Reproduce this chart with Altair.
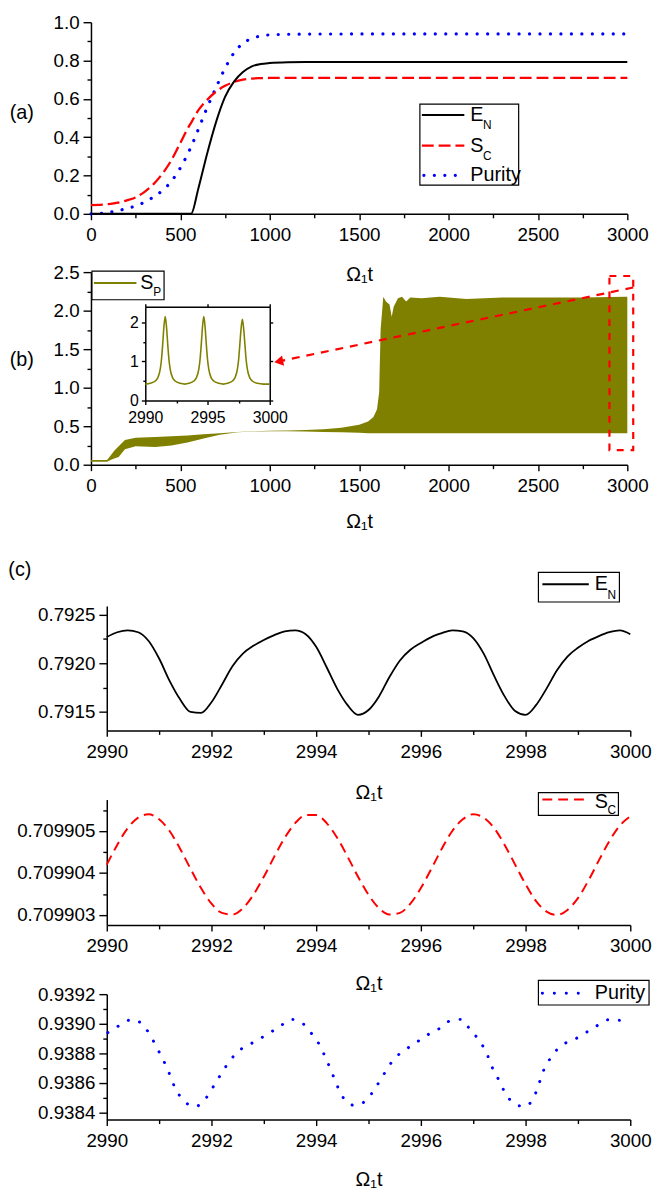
import altair as alt
import pandas as pd

FONT = "Liberation Sans"
W, H = 653, 1192
OMEGA_T = "Ω₁t"

# ---------------- data: panel (a) ----------------
T_A = [0, 50, 100, 150, 200, 250, 300, 350, 400, 450, 500, 550, 560, 600, 650, 700,
       750, 800, 850, 900, 950, 1000, 1100, 1200, 1500, 2000, 2500, 3000]
EN_A = [0, 0, 0, 0, 0, 0, 0, 0, 0, 0, 0, 0, 0, 0.13, 0.315, 0.48,
        0.61, 0.69, 0.74, 0.77, 0.782, 0.787, 0.791, 0.792, 0.792, 0.792, 0.792, 0.792]
SC_A = [0.046, 0.047, 0.051, 0.058, 0.070, 0.086, 0.115, 0.155, 0.21, 0.28, 0.37, 0.46, 0.475, 0.54, 0.595, 0.638,
        0.668, 0.688, 0.70, 0.706, 0.708, 0.709, 0.710, 0.710, 0.710, 0.710, 0.710, 0.710]
PU_A = [0.0, 0.002, 0.008, 0.016, 0.028, 0.041, 0.061, 0.088, 0.122, 0.17, 0.24, 0.33, 0.35, 0.44, 0.555, 0.66,
        0.76, 0.84, 0.89, 0.915, 0.928, 0.934, 0.937, 0.938, 0.9388, 0.9388, 0.9388, 0.9388]

# ---------------- data: panel (b) ----------------
T_B = [0, 90, 110, 130, 155, 190, 250, 360, 450, 540,
       630, 720, 820, 910, 1000, 1100, 1200, 1300, 1400, 1500,
       1550, 1580, 1600, 1612, 1620, 1635, 1650, 1670, 1682, 1693,
       1717, 1740, 1763, 1786, 1850, 1950, 2100, 2300, 2520, 2750,
       2990, 3000]
UP_B = [0.06, 0.06, 0.12, 0.18, 0.24, 0.32, 0.35, 0.36, 0.37, 0.38,
        0.395, 0.41, 0.425, 0.435, 0.44, 0.445, 0.45, 0.46, 0.48, 0.52,
        0.56, 0.62, 0.72, 0.94, 1.75, 2.18, 2.12, 2.08, 1.92, 2.05,
        2.16, 2.18, 2.12, 2.17, 2.16, 2.18, 2.15, 2.17, 2.17, 2.17,
        2.18, 2.18]
LO_B = [0.04, 0.04, 0.06, 0.08, 0.10, 0.20, 0.24, 0.23, 0.25, 0.29,
        0.34, 0.39, 0.42, 0.43, 0.435, 0.435, 0.43, 0.425, 0.42, 0.415,
        0.41, 0.41, 0.41, 0.41, 0.41, 0.41, 0.41, 0.41, 0.41, 0.41,
        0.41, 0.41, 0.41, 0.41, 0.41, 0.41, 0.41, 0.41, 0.41, 0.41,
        0.41, 0.41]

# inset of (b)
T_IN = [2990.0, 2990.4, 2990.8, 2991.0, 2991.2, 2991.3, 2991.4, 2991.5, 2991.6, 2991.7,
        2991.8, 2991.9, 2992.0, 2992.2, 2992.4, 2992.8, 2993.2, 2993.5, 2993.9, 2994.1,
        2994.3, 2994.4, 2994.5, 2994.6, 2994.7, 2994.8, 2994.9, 2995.0, 2995.1, 2995.3,
        2995.5, 2995.9, 2996.3, 2996.6, 2997.0, 2997.2, 2997.4, 2997.5, 2997.6, 2997.7,
        2997.8, 2997.9, 2998.0, 2998.1, 2998.2, 2998.4, 2998.6, 2999.0, 2999.5, 3000.0]
SP_IN = [0.42, 0.44, 0.50, 0.58, 0.80, 1.05, 1.45, 1.90, 2.15, 1.90,
         1.45, 1.05, 0.80, 0.58, 0.50, 0.44, 0.42, 0.44, 0.50, 0.58,
         0.80, 1.05, 1.45, 1.90, 2.15, 1.90, 1.45, 1.05, 0.80, 0.58,
         0.50, 0.44, 0.42, 0.44, 0.50, 0.58, 0.80, 1.05, 1.45, 1.85,
         2.08, 1.85, 1.45, 1.05, 0.80, 0.58, 0.50, 0.44, 0.42, 0.42]

# ---------------- data: panel (c) ----------------
T_C = [2990.0, 2990.2, 2990.4, 2990.6, 2990.8, 2991.0, 2991.2, 2991.4, 2991.6, 2991.8,
       2992.0, 2992.2, 2992.4, 2992.6, 2992.8, 2993.0, 2993.2, 2993.4, 2993.6, 2993.8,
       2994.0, 2994.2, 2994.4, 2994.6, 2994.8, 2995.0, 2995.2, 2995.4, 2995.6, 2995.8,
       2996.0, 2996.2, 2996.4, 2996.6, 2996.8, 2997.0, 2997.2, 2997.4, 2997.6, 2997.8,
       2998.0, 2998.2, 2998.4, 2998.6, 2998.8, 2999.0, 2999.2, 2999.4, 2999.6, 2999.8, 3000.0]
EN_C = [0.79227, 0.79232, 0.79234, 0.79232, 0.79223, 0.79205, 0.79182, 0.79163, 0.79150, 0.79149,
        0.79160, 0.79178, 0.79197, 0.79210, 0.79218, 0.79224, 0.79229, 0.79233, 0.79234, 0.79230,
        0.79217, 0.79196, 0.79174, 0.79157, 0.79147, 0.79152, 0.79166, 0.79186, 0.79203, 0.79214,
        0.79221, 0.79227, 0.79231, 0.79234, 0.79233, 0.79226, 0.79210, 0.79187, 0.79166, 0.79151,
        0.79147, 0.79157, 0.79174, 0.79193, 0.79207, 0.79216, 0.79223, 0.79228, 0.79232, 0.79234, 0.79230]
SC_C = [0.70990420, 0.70990467, 0.70990507, 0.70990532, 0.70990540, 0.70990528, 0.70990500, 0.70990458, 0.70990410, 0.70990364,
        0.70990327, 0.70990305, 0.70990301, 0.70990316, 0.70990348, 0.70990391, 0.70990439, 0.70990484, 0.70990519, 0.70990538,
        0.70990538, 0.70990519, 0.70990484, 0.70990439, 0.70990391, 0.70990348, 0.70990316, 0.70990301, 0.70990305, 0.70990327,
        0.70990364, 0.70990410, 0.70990458, 0.70990500, 0.70990528, 0.70990540, 0.70990532, 0.70990507, 0.70990467, 0.70990420,
        0.70990373, 0.70990333, 0.70990308, 0.70990300, 0.70990312, 0.70990340, 0.70990382, 0.70990430, 0.70990476, 0.70990513, 0.70990535]
T_PU = [2990.02, 2990.25, 2990.49, 2990.72, 2990.88, 2991.0, 2991.1, 2991.2, 2991.3, 2991.45,
        2991.68, 2991.9, 2992.06, 2992.2, 2992.35, 2992.57, 2992.83, 2993.07, 2993.3, 2993.52,
        2993.75, 2993.92, 2994.06, 2994.18, 2994.29, 2994.38, 2994.5, 2994.72, 2994.95, 2995.1,
        2995.26, 2995.42, 2995.6, 2995.86, 2996.1, 2996.32, 2996.56, 2996.78, 2996.94, 2997.15,
        2997.27, 2997.37, 2997.49, 2997.6, 2997.79, 2997.99, 2998.19, 2998.35, 2998.5, 2998.67,
        2998.91, 2999.15, 2999.38, 2999.62, 2999.84]
PU_C = [0.93894, 0.93899, 0.93903, 0.93898, 0.93889, 0.93881, 0.93874, 0.93866, 0.93857, 0.93849,
        0.93844, 0.93850, 0.93859, 0.93867, 0.93875, 0.93883, 0.93888, 0.93893, 0.93898, 0.93903,
        0.93900, 0.93893, 0.93886, 0.93877, 0.93868, 0.93860, 0.93851, 0.93845, 0.93848, 0.93855,
        0.93864, 0.93873, 0.93880, 0.93886, 0.93892, 0.93896, 0.93902, 0.93903, 0.93896, 0.93887,
        0.93879, 0.93870, 0.93862, 0.93854, 0.93846, 0.93844, 0.93853, 0.93869, 0.93878, 0.93885,
        0.93889, 0.93894, 0.93899, 0.93903, 0.93902]

# tick values
XT_A = [0, 500, 1000, 1500, 2000, 2500, 3000]
XM_A = [250, 750, 1250, 1750, 2250, 2750]
YT_A = [0, 0.2, 0.4, 0.6, 0.8, 1.0]
YM_A = [0.1, 0.3, 0.5, 0.7, 0.9]
YT_B = [0, 0.5, 1.0, 1.5, 2.0, 2.5]
YM_B = [0.25, 0.75, 1.25, 1.75, 2.25]
XT_IN = [2990, 2995, 3000]
XM_IN = [2992.5, 2997.5]
YT_IN = [0, 1, 2]
YM_IN = [0.5, 1.5]
XT_C = [2990, 2992, 2994, 2996, 2998, 3000]
XM_C = [2991, 2993, 2995, 2997, 2999]
YT_C1 = [0.7915, 0.7920, 0.7925]
YM_C1 = [0.79175, 0.79225]
YT_C2 = [0.709903, 0.709904, 0.709905]
YM_C2 = [0.7099035, 0.7099045, 0.7099055]
YT_C3 = [0.9384, 0.9386, 0.9388, 0.9390, 0.9392]
YM_C3 = [0.9385, 0.9387, 0.9389, 0.9391]

# ---------------- helpers ----------------
BASE_AX = dict(grid=False, tickColor="black", domainColor="black", labelColor="black",
               titleColor="black", tickWidth=1.4, domainWidth=1.5, labelFont=FONT,
               titleFont=FONT, titleFontWeight="normal", labelFlush=False, labelOverlap=False)
LBL = 19


def sc(dom, rng):
    return alt.Scale(domain=dom, range=rng, nice=False, zero=False)


def ax_bottom(offset, values, fmt, title, tpad, size=LBL, tick=6, lpad=6):
    return alt.Axis(orient="bottom", offset=offset, values=values, format=fmt, title=title,
                    labelFontSize=size, titleFontSize=20, tickSize=tick, labelPadding=lpad,
                    titlePadding=tpad, **BASE_AX)


def ax_left(offset, values, fmt, size=LBL, tick=8, lpad=4):
    return alt.Axis(orient="left", offset=offset, values=values, format=fmt, title="",
                    labelFontSize=size, tickSize=tick, labelPadding=lpad, **BASE_AX)


def ax_minor(orient, offset, values, size=4):
    return alt.Axis(orient=orient, offset=offset, values=values, labels=False, domain=False,
                    title="", tickSize=size, **BASE_AX)


def ax_frame(orient, offset, values):
    return alt.Axis(orient=orient, offset=offset, values=values, labels=False, domain=True,
                    title="", tickSize=3, **BASE_AX)


ANN = pd.DataFrame({"k": [0]})


def txt(x, y, s, size=19, align="left"):
    return alt.Chart(ANN).mark_text(font=FONT, fontSize=size, align=align, baseline="middle",
                                    color="black").encode(
        x=alt.value(x), y=alt.value(y), text=alt.value(s))


def seg(x1, x2, y, color, width, dash=None, cap="butt"):
    kw = dict(color=color, strokeWidth=width, strokeCap=cap)
    if dash is not None:
        kw["strokeDash"] = dash
    return alt.Chart(ANN).mark_rule(**kw).encode(x=alt.value(x1), x2=alt.value(x2), y=alt.value(y))


def lbox(x1, y1, x2, y2):
    return alt.Chart(ANN).mark_rect(fill="white", stroke="black", strokeWidth=1.2).encode(
        x=alt.value(x1), x2=alt.value(x2), y=alt.value(y1), y2=alt.value(y2))


# ---------------- panel (a) ----------------
xa_s = sc([0, 3000], [84, 627])
ya_s = sc([0, 1], [201, 7])
XA = alt.X("t:Q", scale=xa_s, axis=ax_bottom(-991, XT_A, "d", OMEGA_T, 20))
YA = alt.Y("v:Q", scale=ya_s, axis=ax_left(-84, YT_A, ".1f"))
df_en_a = pd.DataFrame({"t": T_A, "v": EN_A})
df_sc_a = pd.DataFrame({"t": T_A, "v": SC_A})
df_pu_a = pd.DataFrame({"t": T_A, "v": PU_A})
panel_a = alt.layer(
    alt.Chart(df_pu_a).mark_line(color="blue", strokeWidth=3.2, strokeDash=[0.1, 10.5],
                                 strokeCap="round", interpolate="monotone").encode(x=XA, y=YA),
    alt.Chart(df_sc_a).mark_line(color="red", strokeWidth=2.3, strokeDash=[12, 5],
                                 interpolate="monotone").encode(x=XA, y=YA),
    alt.Chart(df_en_a).mark_line(color="black", strokeWidth=2,
                                 interpolate="monotone").encode(x=XA, y=YA),
)
minor_a = alt.Chart(df_en_a).mark_point(opacity=0).encode(
    x=alt.X("t:Q", scale=xa_s, axis=ax_minor("bottom", -991, XM_A)),
    y=alt.Y("v:Q", scale=ya_s, axis=ax_minor("left", -84, YM_A)))

# ---------------- panel (b) ----------------
xb_s = sc([0, 3000], [84, 627])
yb_s = sc([0, 2.5], [455, 260])
XB_AX = ax_bottom(-737, XT_A, "d", OMEGA_T, 17)
YB_AX = ax_left(-84, YT_B, ".1f")
df_b = pd.DataFrame({"t": T_B, "lo": LO_B, "up": UP_B})
ZOOM_BOX = pd.DataFrame({"x1": [2900], "x2": [3033], "y1": [0.19], "y2": [2.45]})
ARROW = pd.DataFrame({"x1": [3033], "x2": [1050], "y1": [2.30], "y2": [1.341]})
panel_b = alt.layer(
    alt.Chart(df_b).mark_area(color="#808000", opacity=1).encode(
        x=alt.X("t:Q", scale=xb_s, axis=XB_AX),
        y=alt.Y("lo:Q", scale=yb_s, axis=YB_AX), y2="up:Q"),
    alt.Chart(ZOOM_BOX).mark_rect(fillOpacity=0, stroke="red", strokeWidth=2.2, strokeDash=[7, 7]).encode(
        x=alt.X("x1:Q", scale=xb_s, axis=XB_AX), x2="x2:Q",
        y=alt.Y("y1:Q", scale=yb_s, axis=YB_AX), y2="y2:Q"),
    alt.Chart(ARROW).mark_rule(color="red", strokeWidth=2.2, strokeDash=[8, 7]).encode(
        x=alt.X("x1:Q", scale=xb_s, axis=XB_AX), x2="x2:Q",
        y=alt.Y("y1:Q", scale=yb_s, axis=YB_AX), y2="y2:Q"),
    alt.Chart(ARROW).mark_point(shape="triangle-left", filled=True, size=110, angle=349,
                                color="red", opacity=1).encode(
        x=alt.X("x2:Q", scale=xb_s, axis=XB_AX),
        y=alt.Y("y2:Q", scale=yb_s, axis=YB_AX)),
)
minor_b = alt.Chart(df_b).mark_point(opacity=0).encode(
    x=alt.X("t:Q", scale=xb_s, axis=ax_minor("bottom", -737, XM_A)),
    y=alt.Y("lo:Q", scale=yb_s, axis=ax_minor("left", -84, YM_B)))

# inset
xi_s = sc([2990, 3000], [139, 265])
yi_s = sc([0, 2.4], [390, 295])
df_in = pd.DataFrame({"t": T_IN, "v": SP_IN})
inset = alt.Chart(df_in).mark_line(color="#808000", strokeWidth=1.6, interpolate="monotone").encode(
    x=alt.X("t:Q", scale=xi_s, axis=ax_bottom(-802, XT_IN, "d", "", 0, size=16, tick=4, lpad=5)),
    y=alt.Y("v:Q", scale=yi_s, axis=ax_left(-139, YT_IN, "d", size=16, tick=4, lpad=3)))
inset_minor = alt.Chart(df_in).mark_point(opacity=0).encode(
    x=alt.X("t:Q", scale=xi_s, axis=ax_minor("bottom", -802, XM_IN, 2.5)),
    y=alt.Y("v:Q", scale=yi_s, axis=ax_minor("left", -139, YM_IN, 2.5)))
inset_frame = alt.Chart(df_in).mark_point(opacity=0).encode(
    x=alt.X("t:Q", scale=xi_s, axis=ax_frame("top", -295, XT_IN)),
    y=alt.Y("v:Q", scale=yi_s, axis=ax_frame("right", -388, YT_IN)))

# ---------------- panel (c) ----------------
xc_s = [2990, 3000]
xc_r = [100, 630]


def c_panel(df, yfield, ydom, yrng, yt, ym, fmt, off_b, tpad, mark):
    main = mark.encode(
        x=alt.X("t:Q", scale=sc(xc_s, xc_r), axis=ax_bottom(off_b, XT_C, "d", OMEGA_T, tpad)),
        y=alt.Y(yfield, scale=sc(ydom, yrng), axis=ax_left(-100, yt, fmt)))
    minor = alt.Chart(df).mark_point(opacity=0).encode(
        x=alt.X("t:Q", scale=sc(xc_s, xc_r), axis=ax_minor("bottom", off_b, XM_C)),
        y=alt.Y(yfield, scale=sc(ydom, yrng), axis=ax_minor("left", -100, ym)))
    return main, minor


df_c1 = pd.DataFrame({"t": T_C, "v": EN_C})
df_c2 = pd.DataFrame({"t": T_C, "v": SC_C})
df_c3 = pd.DataFrame({"t": T_PU, "v": PU_C})
c1, c1m = c_panel(df_c1, "v:Q", [0.79131, 0.79259], [724, 598], YT_C1, YM_C1, ".4f", -468, 22,
                  alt.Chart(df_c1).mark_line(color="black", strokeWidth=1.8, interpolate="monotone"))
c2, c2m = c_panel(df_c2, "v:Q", [0.70990276, 0.70990575], [921, 794], YT_C2, YM_C2, ".6f", -271, 18,
                  alt.Chart(df_c2).mark_line(color="red", strokeWidth=2, strokeDash=[10, 6],
                                             interpolate="monotone"))
c3, c3m = c_panel(df_c3, "v:Q", [0.938353, 0.9392], [1118, 991], YT_C3, YM_C3, ".4f", -74, 20,
                  alt.Chart(df_c3).mark_line(color="blue", strokeWidth=3, strokeDash=[0.1, 12],
                                             strokeCap="round", interpolate="monotone"))

# ---------------- legends & labels ----------------
annotations = [
    # (a) legend
    lbox(417, 90, 517, 172),
    seg(419, 462, 101, "black", 2),
    txt(468, 101, "E", size=20), txt(481, 111, "N", size=12),
    seg(419, 462, 132, "red", 2.3, [12, 5]),
    txt(468, 132, "S", size=20), txt(481, 142, "C", size=12),
    seg(421, 462, 162, "blue", 3.2, [0.1, 10.5], "round"),
    txt(468, 162, "Purity", size=20),
    # (b) legend
    lbox(85, 259, 158, 288),
    seg(87, 130, 271, "#808000", 2),
    txt(134, 271, "S", size=20), txt(147, 280, "P", size=12),
    # c legends
    lbox(537, 564, 619, 594),
    seg(541, 588, 576, "black", 1.8),
    txt(594, 576, "E", size=20), txt(607, 587, "N", size=12),
    lbox(537, 787, 618, 810),
    seg(541, 584, 794, "red", 2, [10, 6]),
    txt(594, 797, "S", size=20), txt(607, 805, "C", size=12),
    lbox(537, 977, 649, 1002),
    seg(541, 580, 990, "blue", 3, [0.1, 12], "round"),
    txt(594, 990, "Purity", size=20),
    # panel labels
    txt(14, 99, "(a)", size=20, align="center"),
    txt(14, 349, "(b)", size=20, align="center"),
    txt(12, 562, "(c)", size=20, align="center"),
]

chart = alt.layer(
    panel_a, minor_a, panel_b, minor_b, inset, inset_minor, inset_frame,
    c1, c1m, c2, c2m, c3, c3m, *annotations
).resolve_scale(x="independent", y="independent").properties(
    width=W, height=H, autosize=alt.AutoSizeParams(type="none"), padding=0
).configure_view(stroke=None)

chart.save("out.html", embed_options={"renderer": "svg", "actions": False})
